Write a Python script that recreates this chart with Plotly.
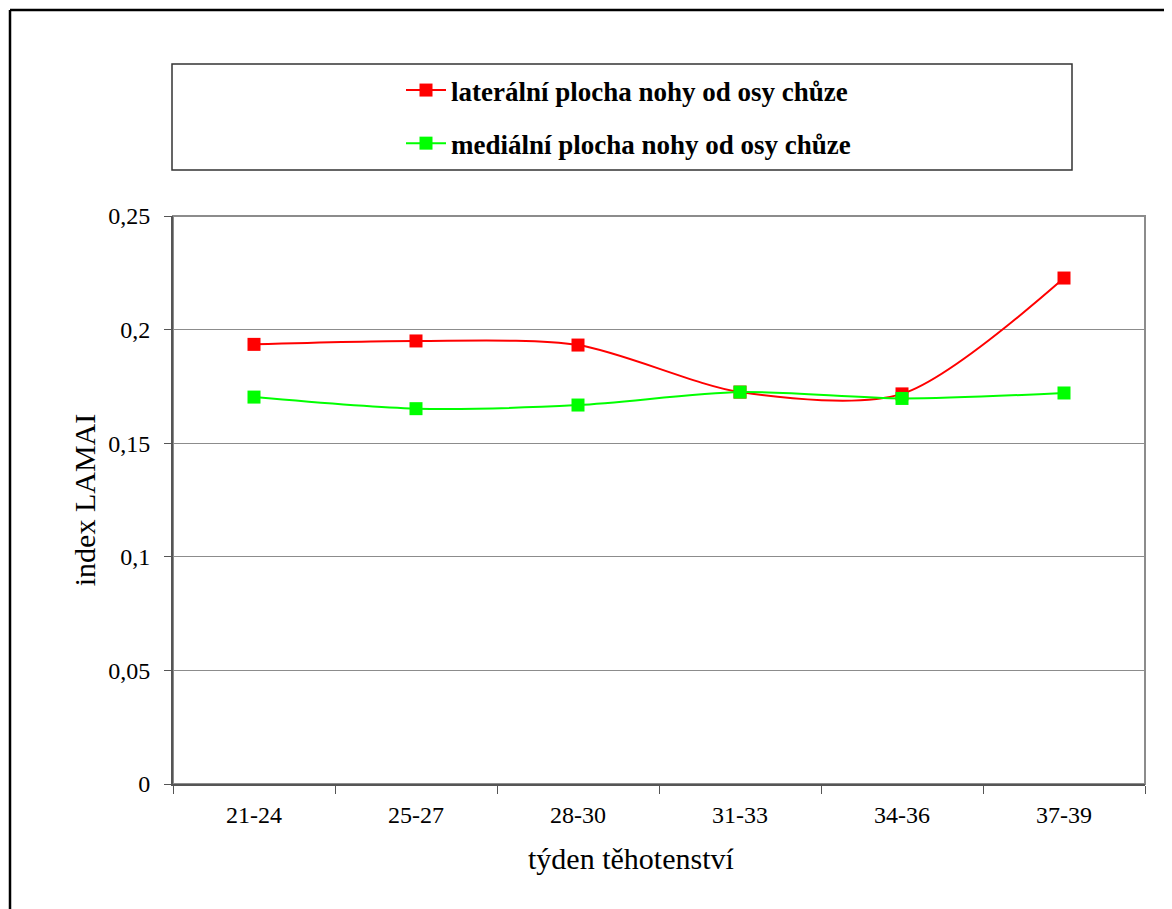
import plotly.graph_objects as go

categories = ["21-24", "25-27", "28-30", "31-33", "34-36", "37-39"]
lateral = [0.1935, 0.1950, 0.1932, 0.1725, 0.1717, 0.2227]
medial = [0.1703, 0.1652, 0.1668, 0.1725, 0.1697, 0.1721]
lateral_name = "laterální plocha nohy od osy chůze"
medial_name = "mediální plocha nohy od osy chůze"
x_title = "týden těhotenství"
y_title = "index LAMAI"
y_ticks = [0, 0.05, 0.1, 0.15, 0.2, 0.25]
y_tick_text = ["0", "0,05", "0,1", "0,15", "0,2", "0,25"]

serif = "Liberation Serif, Times New Roman, serif"

# page body has an 8px margin; plot area should sit at x 173..1145, y 216..784 in the window
PL, PT, PW, PH = 173, 216, 972, 568

def px(x):
    return (x - PL) / PW

def py(y):
    return (PT + PH - y) / PH

fig = go.Figure()
fig.add_trace(go.Scatter(
    x=categories, y=lateral, name=lateral_name, mode="lines+markers",
    line=dict(color="#ff0000", width=2, shape="spline", smoothing=0.8),
    marker=dict(symbol="square", size=13, color="#ff0000"),
    legendgroup="a",
))
fig.add_trace(go.Scatter(
    x=categories, y=medial, name=medial_name, mode="lines+markers",
    line=dict(color="#00ff00", width=2, shape="spline", smoothing=0.8),
    marker=dict(symbol="square", size=13, color="#00ff00"),
    legendgroup="b",
))

fig.update_layout(
    width=1164, height=901,
    margin=dict(l=165, r=27, t=208, b=125),
    paper_bgcolor="white", plot_bgcolor="white",
    font=dict(family=serif, color="#000000"),
    showlegend=True,
    legend=dict(
        x=px(401), y=py(66), xanchor="left", yanchor="top",
        font=dict(family=serif, size=27, color="#000000", weight="bold"),
        bgcolor="rgba(0,0,0,0)", borderwidth=0,
        tracegroupgap=15, itemwidth=40,
    ),
    xaxis=dict(
        type="category", range=[-0.5, 5.5],
        showline=True, linecolor="#555555", linewidth=2,
        ticks="outside", tickson="boundaries", ticklen=8, tickcolor="#555555",
        tickfont=dict(family=serif, size=24, color="#000000"),
        ticklabelstandoff=8,
        showgrid=False, zeroline=False,
    ),
    yaxis=dict(
        range=[0, 0.25], tickvals=y_ticks, ticktext=y_tick_text,
        showline=True, linecolor="#555555", linewidth=2,
        ticks="outside", ticklen=7, tickcolor="#555555",
        tickfont=dict(family=serif, size=24, color="#000000"),
        ticklabelstandoff=9,
        showgrid=True, gridcolor="#8c8c8c", gridwidth=1, zeroline=False,
        title=dict(text=y_title, font=dict(family=serif, size=30, color="#000000"), standoff=4),
    ),
    annotations=[
        dict(text=x_title, xref="paper", yref="paper", x=px(631), y=py(858),
             xanchor="center", yanchor="middle", showarrow=False,
             font=dict(family=serif, size=30, color="#000000")),
    ],
    shapes=[
        dict(type="rect", xref="paper", yref="paper", x0=0, y0=0, x1=1, y1=1,
             line=dict(color="#8c8c8c", width=2), layer="below"),
        dict(type="rect", xref="paper", yref="paper",
             x0=px(172), x1=px(1072), y0=py(170), y1=py(64),
             line=dict(color="#333333", width=1.5)),
        dict(type="line", xref="paper", yref="paper",
             x0=px(10), x1=px(1180), y0=py(10), y1=py(10),
             line=dict(color="#000000", width=2.5)),
        dict(type="line", xref="paper", yref="paper",
             x0=px(10), x1=px(10), y0=py(10), y1=py(920),
             line=dict(color="#000000", width=2.5)),
    ],
)

fig.write_html("out.html")
